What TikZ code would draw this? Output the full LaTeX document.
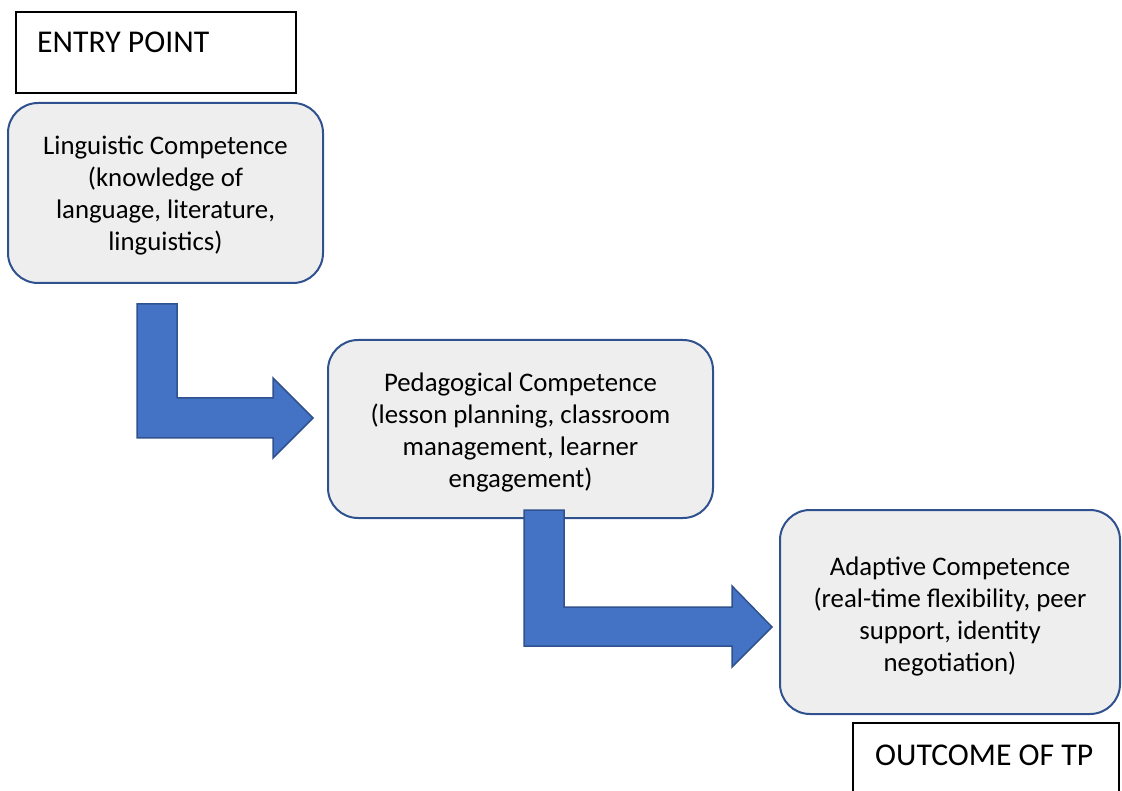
\documentclass[tikz,border=0pt]{standalone}
\usepackage{fontspec}
\setmainfont{Carlito}
\definecolor{boxfill}{RGB}{238,238,238}
\definecolor{boxline}{RGB}{47,82,143}
\definecolor{arrfill}{RGB}{68,114,196}
\begin{document}
\begin{tikzpicture}[x=1pt,y=-1pt,
  compbox/.style={draw=boxline,line width=2pt,fill=boxfill,rounded corners=30pt},
  comptext/.style={align=center,font=\fontsize{26.8}{32}\selectfont,inner sep=0pt},
  labelbox/.style={draw=black,line width=1.5pt,fill=white},
  labeltext/.style={font=\fontsize{31.7}{37}\selectfont,inner sep=0pt,anchor=base west},
  bentarrow/.style={draw=boxline,line width=1.5pt,fill=arrfill,line join=miter}]
\useasboundingbox (0,0) rectangle (1122,791);
\clip (0,0) rectangle (1122,791);
% entry box
\draw[labelbox] (16,12) rectangle (296,93);
\node[labeltext] (entry) at (37,53) {ENTRY POINT};
% box 1
\draw[compbox] (8,103) rectangle (323,283);
\node[comptext] (ling) at (165.5,196) {Linguistic Competence\\(knowledge of\\language, literature,\\linguistics)};
% arrow 1
\draw[bentarrow] (137,304) -- (177,304) -- (177,398) -- (273,398) -- (273,378) -- (313,418) -- (273,458) -- (273,438) -- (137,438) -- cycle;
% box 2
\draw[compbox] (328,340) rectangle (713,518);
\node[comptext] (peda) at (520.5,432) {Pedagogical Competence\\(lesson planning, classroom\\management, learner\\engagement)};
% arrow 2
\draw[bentarrow] (524,510) -- (564,510) -- (564,607) -- (732,607) -- (732,586) -- (772,627) -- (732,667) -- (732,646) -- (524,646) -- cycle;
% box 3
\draw[compbox] (780,510) rectangle (1120,714);
\node[comptext] (adap) at (950,616) {Adaptive Competence\\(real-time flexibility, peer\\support, identity\\negotiation)};
% outcome box
\draw[labelbox] (853,723) rectangle (1119,820);
\node[labeltext] (outcome) at (875,765) {OUTCOME OF TP};
\end{tikzpicture}
\end{document}
